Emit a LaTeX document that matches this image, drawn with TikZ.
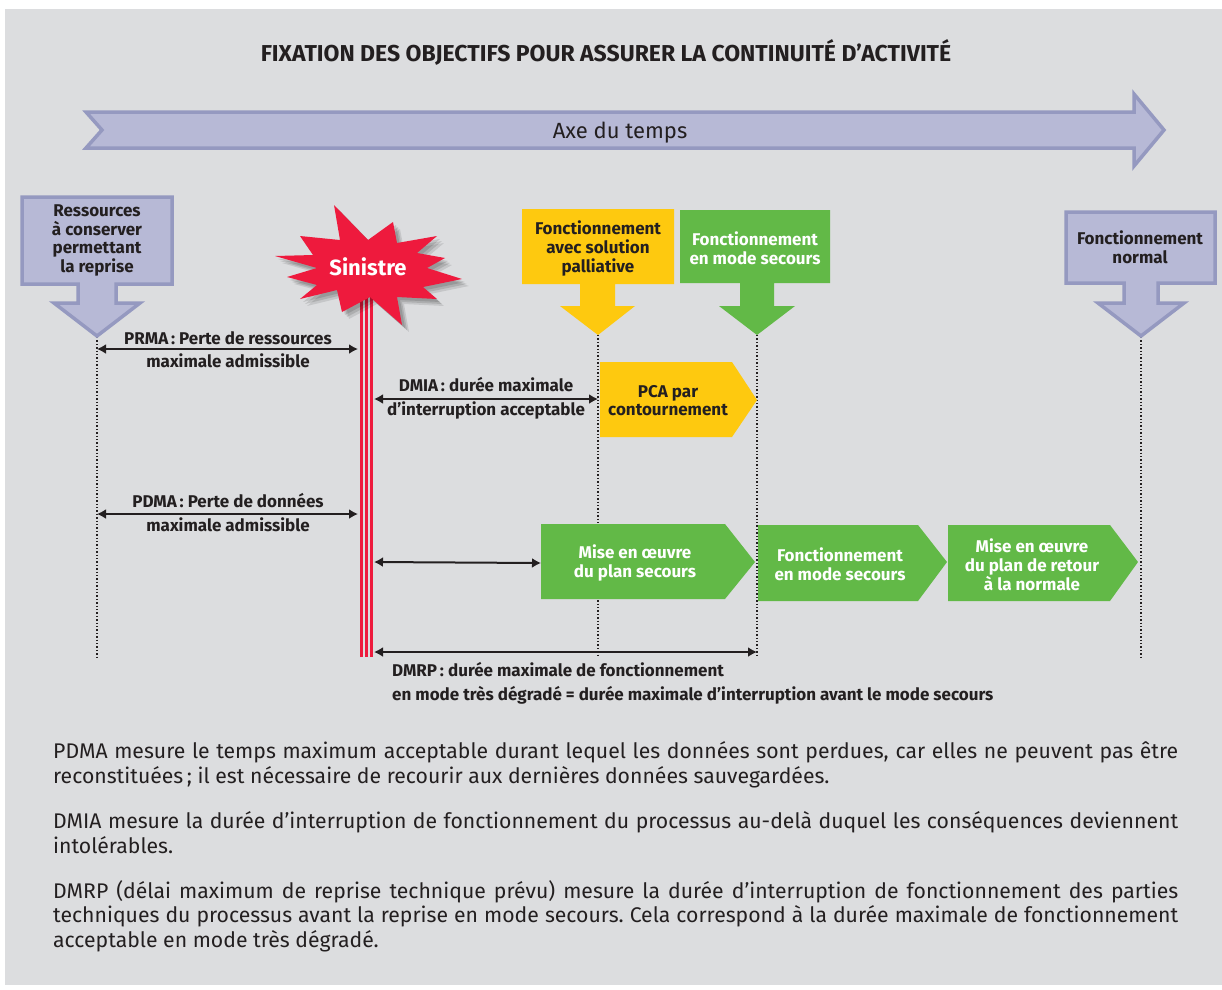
\documentclass[tikz,border=0pt]{standalone}
\usepackage{fontspec}
\setmainfont{Fira Sans}
\usetikzlibrary{arrows.meta}
\definecolor{panel}{HTML}{DCDDDF}
\definecolor{lavfill}{HTML}{B7B9D6}
\definecolor{lavline}{HTML}{9599C0}
\definecolor{yelc}{HTML}{FEC90F}
\definecolor{grnc}{HTML}{62B947}
\definecolor{redc}{HTML}{EE1A3D}
\definecolor{ink}{HTML}{231F20}
\begin{document}
\begin{tikzpicture}[x=1pt,y=-1pt,
  lbl/.style={font=\bfseries\fontsize{17}{18.8}\selectfont, text=ink, inner sep=0pt, align=center},
  wlbl/.style={lbl, text=white},
  bodytxt/.style={font=\fontsize{21.2}{24}\selectfont, text=ink, inner sep=0pt, anchor=base west},
  dim/.style={{Latex[length=9pt,width=10pt]}-{Latex[length=9pt,width=10pt]}, line width=2pt, draw=ink},
  vdot/.style={draw=ink, line width=1.4pt, dash pattern=on 1.4pt off 2pt},
  lav/.style={fill=lavfill, draw=lavline, line width=3.5pt, line join=miter},
  ybox/.style={fill=yelc},
  gbox/.style={fill=grnc},
  redline/.style={draw=redc, line width=3pt},
]
\useasboundingbox (0,0) rectangle (1222,989);
\fill[white] (0,0) rectangle (1222,989);
\fill[panel] (5,9) rectangle (1222,985);

% title
\node[font=\bfseries\fontsize{23}{26}\selectfont, text=ink, anchor=base, inner sep=0pt] (title) at (606,61) {FIXATION DES OBJECTIFS POUR ASSURER LA CONTINUITÉ D’ACTIVITÉ};

% time axis
\filldraw[lav] (86,112) -- (1134,112) -- (1134,94) -- (1164,130) -- (1134,166) -- (1134,148) -- (86,148) -- (102,130) -- cycle;
\node[font=\fontsize{22}{24}\selectfont, text=ink, anchor=base, inner sep=0pt] (axe) at (620,138) {Axe du temps};

% dotted verticals
\coordinate (d1t) at (97,337);  \coordinate (d1b) at (97,657);
\coordinate (d2t) at (598,335); \coordinate (d2b) at (598,657);
\coordinate (d3t) at (757,335); \coordinate (d3b) at (757,657);
\coordinate (d4t) at (1141,337); \coordinate (d4b) at (1141,657);
\draw[vdot] (d1t) -- (d1b);
\draw[vdot] (d2t) -- (d2b);
\draw[vdot] (d3t) -- (d3b);
\draw[vdot] (d4t) -- (d4b);

% red lines of the incident
\coordinate (r1t) at (361.5,290); \coordinate (r1b) at (361.5,657);
\coordinate (r2t) at (366.7,290); \coordinate (r2b) at (366.7,657);
\coordinate (r3t) at (371.9,290); \coordinate (r3b) at (371.9,657);
\draw[redline] (r1t) -- (r1b);
\draw[redline] (r2t) -- (r2b);
\draw[redline] (r3t) -- (r3b);

% star shadow
\foreach \dx/\op in {3/0.12,5/0.12,7/0.10}{
\fill[black, opacity=\op, shift={(\dx,\dx)}] (334,205) -- (368,240) -- (393,222) -- (397,243) -- (437,236) -- (417,253) -- (445,258) -- (427,268) -- (462,279) -- (423,287) -- (437,299) -- (397,297) -- (402,325) -- (370,297) -- (342,312) -- (337,290) -- (300,299) -- (317,285) -- (287,277) -- (317,268) -- (275,256) -- (313,255) -- (300,236) -- (340,240) -- cycle;
}
% star
\fill[redc] (334,205) -- (368,240) -- (393,222) -- (397,243) -- (437,236) -- (417,253) -- (445,258) -- (427,268) -- (462,279) -- (423,287) -- (437,299) -- (397,297) -- (402,325) -- (370,297) -- (342,312) -- (337,290) -- (300,299) -- (317,285) -- (287,277) -- (317,268) -- (275,256) -- (313,255) -- (300,236) -- (340,240) -- cycle;
\node[font=\bfseries\fontsize{22}{24}\selectfont, text=white, inner sep=0pt] (sinistre) at (368,267) {Sinistre};

% callouts
\filldraw[lav] (22,197) -- (172,197) -- (172,284) -- (116,284) -- (116,303) -- (140,303) -- (97,336) -- (54,303) -- (78,303) -- (78,284) -- (22,284) -- cycle;
\node[lbl] (res) at (97,240.5) {Ressources\\à conserver\\permettant\\la reprise};

\fill[ybox] (522,209) -- (674,209) -- (674,284) -- (615,284) -- (615,306) -- (635,306) -- (598,335) -- (560,306) -- (580,306) -- (580,284) -- (522,284) -- cycle;
\node[lbl] (pall) at (598,248.5) {Fonctionnement\\avec solution\\palliative};

\fill[gbox] (680,210) -- (830,210) -- (830,283) -- (774,283) -- (774,306) -- (795,306) -- (757,335) -- (719,306) -- (740,306) -- (740,283) -- (680,283) -- cycle;
\node[wlbl] (secA) at (755,248) {Fonctionnement\\en mode secours};

\filldraw[lav] (1066,212) -- (1215,212) -- (1215,283) -- (1158,283) -- (1158,303) -- (1184,303) -- (1141,336) -- (1098,303) -- (1124,303) -- (1124,283) -- (1066,283) -- cycle;
\node[lbl] (norm) at (1140,247.5) {Fonctionnement\\normal};

% process boxes
\fill[ybox] (600,362) -- (732,362) -- (757,400) -- (732,437) -- (600,437) -- cycle;
\node[lbl] (pca) at (668,400.5) {PCA par\\contournement};

\fill[gbox] (541,524) -- (725,524) -- (755,562) -- (725,599) -- (541,599) -- cycle;
\node[wlbl] (mise1) at (635,563) {Mise en œuvre\\du plan secours};

\fill[gbox] (758,525) -- (918,525) -- (947,562) -- (918,601) -- (758,601) -- cycle;
\node[wlbl] (secB) at (840,564.5) {Fonctionnement\\en mode secours};

\fill[gbox] (948,525) -- (1110,525) -- (1138,562) -- (1110,601) -- (948,601) -- cycle;
\node[wlbl] (retour) at (1032,564.5) {Mise en œuvre\\du plan de retour\\à la normale};

% dimension arrows
\coordinate (prmaL) at (97,349);  \coordinate (prmaR) at (358,349);
\draw[dim] (prmaL) -- (prmaR);
\node[lbl, anchor=base] (prma1) at (228,344) {PRMA\,: Perte de ressources};
\node[lbl, anchor=base] (prma2) at (228,367.5) {maximale admissible};

\coordinate (dmiaL) at (374,399); \coordinate (dmiaR) at (598,399);
\draw[dim] (dmiaL) -- (dmiaR);
\node[lbl, anchor=base] (dmia1) at (486,391.5) {DMIA\,: durée maximale};
\node[lbl, anchor=base] (dmia2) at (486,415) {d’interruption acceptable};

\coordinate (pdmaL) at (97,514);  \coordinate (pdmaR) at (358,514);
\draw[dim] (pdmaL) -- (pdmaR);
\node[lbl, anchor=base] (pdma1) at (228,507.5) {PDMA\,: Perte de données};
\node[lbl, anchor=base] (pdma2) at (228,531) {maximale admissible};

\coordinate (midL) at (374,562);
\draw[dim] (midL) -- (mise1.west -| 541,562);

\coordinate (dmrpL) at (374,652); \coordinate (dmrpR) at (757,652);
\draw[dim] (dmrpL) -- (dmrpR);
\node[lbl, anchor=base west] (dmrp1) at (392,676.5) {DMRP\,: durée maximale de fonctionnement};
\node[lbl, anchor=base west] (dmrp2) at (392,700) {en mode très dégradé = durée maximale d’interruption avant le mode secours};

% body text
\node[bodytxt] (p1a) at (53,758.5) {\makebox[1125pt][s]{PDMA mesure le temps maximum acceptable durant lequel les données sont perdues, car elles ne peuvent pas être}};
\node[bodytxt] (p1b) at (53,783) {reconstituées\,; il est nécessaire de recourir aux dernières données sauvegardées.};
\node[bodytxt] (p2a) at (53,828) {\makebox[1125pt][s]{DMIA mesure la durée d’interruption de fonctionnement du processus au-delà duquel les conséquences deviennent}};
\node[bodytxt] (p2b) at (53,853) {intolérables.};
\node[bodytxt] (p3a) at (53,898) {\makebox[1125pt][s]{DMRP (délai maximum de reprise technique prévu) mesure la durée d’interruption de fonctionnement des parties}};
\node[bodytxt] (p3b) at (53,922.5) {\makebox[1125pt][s]{techniques du processus avant la reprise en mode secours.\ Cela correspond à la durée maximale de fonctionnement}};
\node[bodytxt] (p3c) at (53,947) {acceptable en mode très dégradé.};
\end{tikzpicture}
\end{document}
